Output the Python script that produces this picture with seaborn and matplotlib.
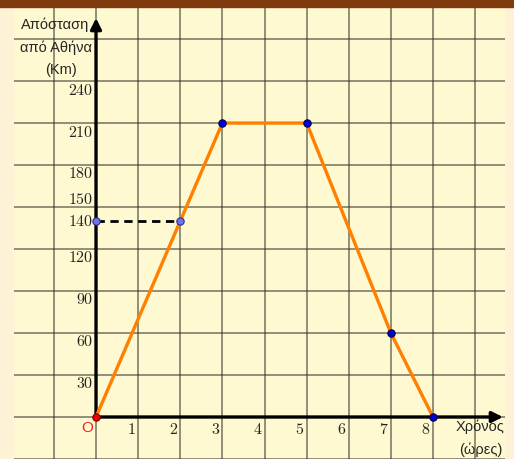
import matplotlib
matplotlib.use("Agg")
import matplotlib.pyplot as plt
import seaborn as sns
import pandas as pd
from matplotlib.patches import Rectangle

# journey data: hours vs distance from Athens (km)
hours = [0, 2, 3, 5, 7, 8]
distance = [0, 140, 210, 210, 60, 0]

# marked points
dark_x = [3, 5, 7, 8]
dark_y = [210, 210, 60, 0]
light_x = [0, 2]
light_y = [140, 140]

y_ticks = [30, 60, 90, 120, 140, 150, 180, 210, 240]
x_ticks = [1, 2, 3, 4, 5, 6, 7, 8]

sns.set_style("white")
plt.rcParams["font.family"] = ["Liberation Sans", "DejaVu Sans"]
plt.rcParams["mathtext.fontset"] = "cm"

fig = plt.figure(figsize=(5.14, 4.59), dpi=100, facecolor="#fdf1d6")
fig.patches.append(Rectangle((0, 1 - 7 / 459), 1, 7 / 459, transform=fig.transFigure,
                             color="#7f3a0e", zorder=5))
ax = fig.add_axes([14 / 514, 0, 491 / 514, 452 / 459])
ax.set_facecolor("#fff9d1")

xmin, xmax = -1.947, 9.709
ymin, ymax = -30, 292.9
ax.set_xlim(xmin, xmax)
ax.set_ylim(ymin, ymax)
for s in ax.spines.values():
    s.set_visible(False)
ax.set_xticks([])
ax.set_yticks([])

# square grid
for gx in range(-1, 10):
    ax.axvline(gx, color="#3a3a30", alpha=0.65, lw=1.2, zorder=1)
for gy in range(-30, 300, 30):
    ax.axhline(gy, color="#3a3a30", alpha=0.65, lw=1.2, zorder=1)

# axes with arrows, starting at the origin
ax.annotate("", xy=(9.66, 0), xytext=(0, 0),
            arrowprops=dict(arrowstyle="-|>", lw=2.4, color="black",
                            mutation_scale=16, shrinkA=0, shrinkB=0), zorder=3)
ax.annotate("", xy=(0, 285), xytext=(0, 0),
            arrowprops=dict(arrowstyle="-|>", lw=2.4, color="black",
                            mutation_scale=16, shrinkA=0, shrinkB=0), zorder=3)

# dashed guide at 140 km
ax.plot([0, 2], [140, 140], color="black", lw=2, ls=(0, (3, 2)), zorder=3)

df = pd.DataFrame({"hours": hours, "distance": distance})
sns.lineplot(data=df, x="hours", y="distance", color="#ff8000", lw=2.4,
             ax=ax, zorder=4, sort=False)

sns.scatterplot(x=dark_x, y=dark_y, color="#0000dd", edgecolor="#000050",
                s=28, linewidth=0.8, ax=ax, zorder=6)
sns.scatterplot(x=light_x, y=light_y, color="#7070f0", edgecolor="#303080",
                s=28, linewidth=0.8, ax=ax, zorder=6)
sns.scatterplot(x=[0], y=[0], color="#ee0000", edgecolor="#800000",
                s=28, linewidth=0.8, ax=ax, zorder=6)

# tick labels
offsets = {140: 0, 150: 5.7}
for v in y_ticks:
    ax.text(-0.07, v + offsets.get(v, -6.4), "$%d$" % v, ha="right", va="center",
            fontsize=11.5, color="#222222", zorder=7)
for v in x_ticks:
    ax.text(v - 0.17, -8.6, "$%d$" % v, ha="center", va="center",
            fontsize=11.5, color="#222222", zorder=7)
ax.text(-0.21, -8.0, "O", ha="center", va="center", fontsize=11, color="#ee2020", zorder=7)

# axis titles
ax.text(-0.97, 280, "Απόσταση", ha="center", va="center", fontsize=10.5, zorder=7)
ax.text(-0.95, 263.6, "από Αθήνα", ha="center", va="center", fontsize=10.5, zorder=7)
ax.text(-0.83, 248, "(Km)", ha="center", va="center", fontsize=10.5, zorder=7)
ax.text(9.12, -7.1, "Χρόνος", ha="center", va="center", fontsize=10.5, zorder=7)
ax.text(9.14, -23.6, "(ώρες)", ha="center", va="center", fontsize=10.5, zorder=7)

ax.set_xlabel("")
ax.set_ylabel("")
fig.savefig("out.png", dpi=100, facecolor=fig.get_facecolor())
